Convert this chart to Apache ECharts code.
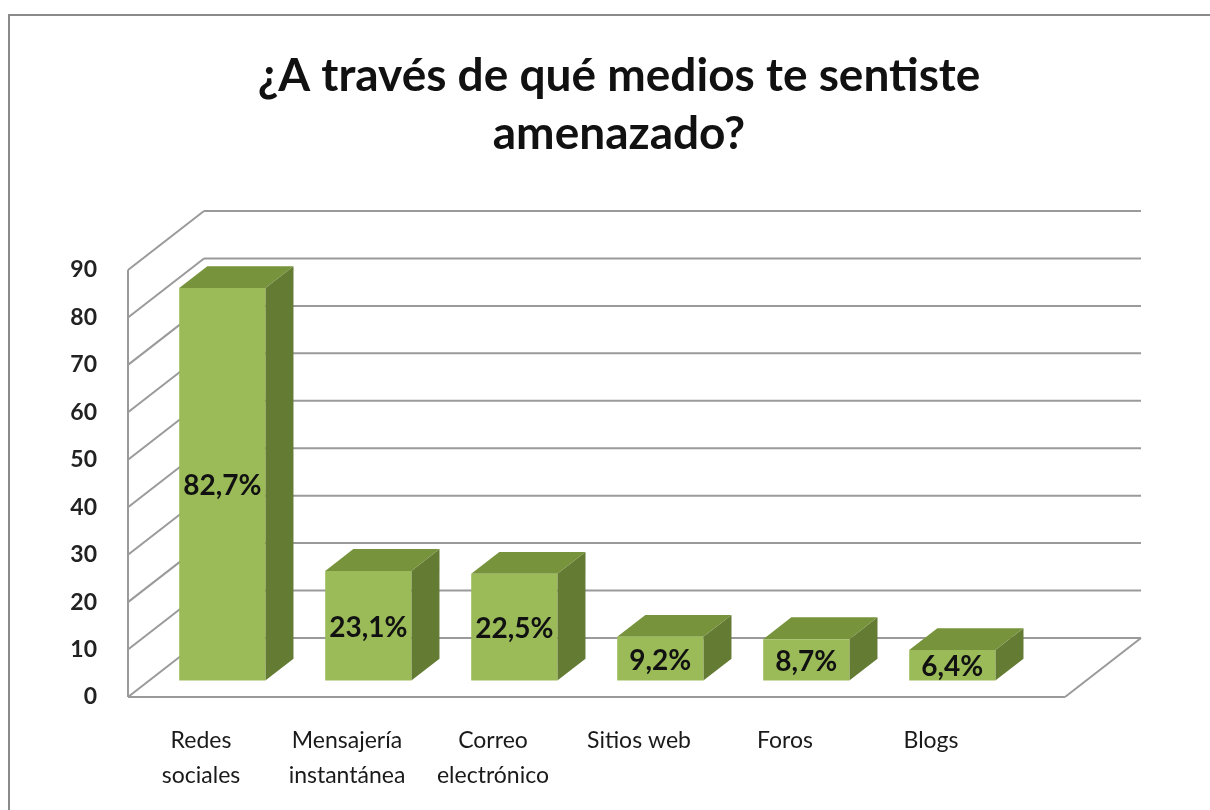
<!DOCTYPE html>
<html>
<head>
<meta charset="utf-8">
<script src="https://cdn.jsdelivr.net/npm/echarts@6/dist/echarts.min.js"></script>
<style>
  html, body { margin: 0; padding: 0; background: #fff; }
  #chart { width: 1210px; height: 810px; }
</style>
</head>
<body>
<div id="chart"></div>
<script>
// data
const categories = ['Redes\nsociales', 'Mensajería\ninstantánea', 'Correo\nelectrónico', 'Sitios web', 'Foros', 'Blogs'];
const values = [82.7, 23.1, 22.5, 9.2, 8.7, 6.4];
const yTicks = [0, 10, 20, 30, 40, 50, 60, 70, 80, 90];

// fake 3D look
const depthX = 76;
const depthY = -59;
const barFront = 0.28;
const barBack = 0.65;
const floorExtra = 61;
const fontFamily = 'Lato, "Open Sans", sans-serif';

const chart = echarts.init(document.getElementById('chart'));

const renderFrame = (params, api) => {
  const cs = params.coordSys;
  const v = api.value(1);
  const y = api.coord([0, v])[1];
  const x0 = cs.x;
  const xr = cs.x + cs.width + floorExtra;
  const lineStyle = { stroke: '#9a9a9a', lineWidth: 2 };
  const children = [
    { type: 'line', shape: { x1: x0, y1: y, x2: x0 + depthX, y2: y + depthY }, style: lineStyle },
    { type: 'line', shape: { x1: x0 + depthX, y1: y + depthY, x2: xr + depthX, y2: y + depthY }, style: lineStyle }
  ];
  if (v === 0) {
    children.push(
      { type: 'line', shape: { x1: x0, y1: y, x2: xr, y2: y }, style: lineStyle },
      { type: 'line', shape: { x1: xr, y1: y, x2: xr + depthX, y2: y + depthY }, style: lineStyle },
      { type: 'line', shape: { x1: x0, y1: y, x2: x0, y2: cs.y }, style: lineStyle }
    );
  }
  return { type: 'group', children: children };
};

const renderBar = (params, api) => {
  const i = api.value(0);
  const v = api.value(1);
  const base = api.coord([i, 0]);
  const top = api.coord([i, v]);
  const bw = api.size([1, 0])[0] * 0.59;
  const xL = base[0] - bw / 2 + barFront * depthX;
  const xR = xL + bw;
  const yB = base[1] + barFront * depthY;
  const yT = top[1] + barFront * depthY;
  const ddx = (barBack - barFront) * depthX;
  const ddy = (barBack - barFront) * depthY;
  return {
    type: 'group',
    children: [
      {
        type: 'polygon',
        shape: { points: [[xR, yT], [xR + ddx, yT + ddy], [xR + ddx, yB + ddy], [xR, yB]] },
        style: { fill: '#647b33' }
      },
      {
        type: 'polygon',
        shape: { points: [[xL, yT], [xR, yT], [xR + ddx, yT + ddy], [xL + ddx, yT + ddy]] },
        style: { fill: '#77933c' }
      },
      {
        type: 'rect',
        shape: { x: xL, y: yT, width: bw, height: yB - yT },
        style: { fill: '#9bbb59' }
      },
      {
        type: 'text',
        style: {
          x: xL + bw / 2,
          y: (yT + yB) / 2 + 2,
          text: v.toFixed(1).replace('.', ',') + '%',
          align: 'center',
          verticalAlign: 'middle',
          fill: '#111',
          font: 'bold 28px ' + fontFamily
        }
      }
    ]
  };
};

const option = {
  animation: false,
  backgroundColor: '#fff',
  title: {
    text: '¿A través de qué medios te sentiste\namenazado?',
    left: 614,
    top: 42,
    textAlign: 'center',
    textStyle: {
      fontFamily: fontFamily,
      fontSize: 46,
      fontWeight: 'bold',
      lineHeight: 58,
      color: '#111'
    }
  },
  graphic: [{
    type: 'rect',
    shape: { x: 9, y: 15, width: 1300, height: 900 },
    style: { fill: 'none', stroke: '#8a8a8a', lineWidth: 2 },
    silent: true
  }],
  grid: { left: 128, top: 270, width: 876, bottom: 113 },
  xAxis: {
    type: 'category',
    data: categories,
    axisLine: { show: false },
    axisTick: { show: false },
    axisLabel: {
      margin: 26,
      fontFamily: fontFamily,
      fontSize: 23,
      lineHeight: 35,
      color: '#1a1a1a',
      interval: 0
    }
  },
  yAxis: {
    type: 'value',
    min: 0,
    max: 90,
    interval: 10,
    axisLine: { show: false },
    axisTick: { show: false },
    splitLine: { show: false },
    axisLabel: {
      margin: 31,
      fontFamily: fontFamily,
      fontSize: 23,
      fontWeight: 'bold',
      color: '#222'
    }
  },
  series: [
    {
      type: 'custom',
      name: 'frame',
      renderItem: renderFrame,
      data: yTicks.map(t => [0, t]),
      clip: false,
      silent: true,
      z: 1
    },
    {
      type: 'custom',
      name: 'medios',
      renderItem: renderBar,
      data: values.map((v, i) => [i, v]),
      clip: false,
      z: 2
    }
  ]
};

chart.setOption(option);
</script>
</body>
</html>
